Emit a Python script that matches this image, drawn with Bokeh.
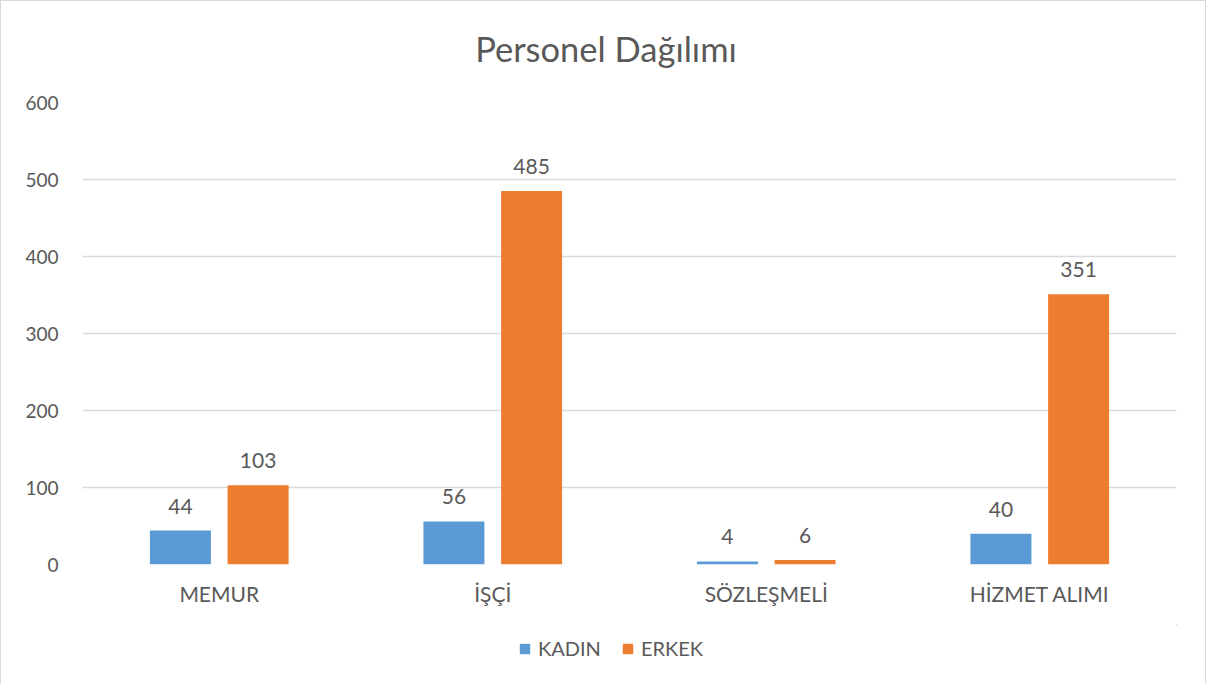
from bokeh.plotting import figure
from bokeh.models import ColumnDataSource, FactorRange, Range1d, Legend, LegendItem, SingleIntervalTicker, Label
from bokeh.layouts import column
from bokeh.core.properties import value
from bokeh.embed import file_html
from bokeh.resources import INLINE
from bokeh.transform import dodge

categories = ["MEMUR", "İŞÇİ", "SÖZLEŞMELİ", "HİZMET ALIMI"]
kadin = [44, 56, 4, 40]
erkek = [103, 485, 6, 351]
series_names = ["KADIN", "ERKEK"]
colors = ["#5B9BD5", "#ED7D31"]
title_text = "Personel Dağılımı"

FONT = "Lato"
TXT = "#595959"
BORDER = "1.5px solid #D9D9D9"
W = 1206
FL, FR = 83, 1176   # frame extents in page pixels (shared across the column)

# ---- title strip
pt = figure(width=W, height=80, x_range=Range1d(FL, FR), y_range=Range1d(0, 80),
            output_backend="svg", toolbar_location=None, x_axis_type=None, y_axis_type=None,
            min_border=0)
pt.outline_line_color = None
pt.styles = {"border-top": BORDER, "border-left": BORDER, "border-right": BORDER,
             "box-sizing": "border-box"}
pt.add_layout(Label(x=606, y=33, text=title_text, text_align="center", text_baseline="middle",
                    text_font=FONT, text_font_size="34.5px", text_color=TXT))

# ---- main chart
src = ColumnDataSource(dict(cat=categories, kadin=kadin, erkek=erkek,
                            kl=[str(v) for v in kadin], el=[str(v) for v in erkek]))

p = figure(width=W, height=544, x_range=FactorRange(*categories),
           y_range=Range1d(0, 600), output_backend="svg", toolbar_location=None,
           min_border_left=81, min_border_right=31, min_border_top=22, min_border_bottom=60)
p.outline_line_color = None
p.border_fill_color = "white"
p.background_fill_color = "white"
p.styles = {"border-left": BORDER, "border-right": BORDER, "box-sizing": "border-box"}

p.vbar(x=dodge("cat", -0.142, range=p.x_range), top="kadin", width=0.223, source=src,
       fill_color=colors[0], line_color=None)
p.vbar(x=dodge("cat", 0.142, range=p.x_range), top="erkek", width=0.223, source=src,
       fill_color=colors[1], line_color=None)

p.text(x=dodge("cat", -0.142, range=p.x_range), y="kadin", text="kl", source=src,
       text_align="center", text_baseline="bottom", y_offset=-17,
       text_font=value(FONT), text_font_size="21px", text_color=TXT)
p.text(x=dodge("cat", 0.142, range=p.x_range), y="erkek", text="el", source=src,
       text_align="center", text_baseline="bottom", y_offset=-17,
       text_font=value(FONT), text_font_size="21px", text_color=TXT)

p.yaxis.ticker = SingleIntervalTicker(interval=100)
p.yaxis.axis_line_color = None
p.yaxis.major_tick_line_color = None
p.yaxis.minor_tick_line_color = None
p.yaxis.major_label_text_font = FONT
p.yaxis.major_label_text_font_size = "19px"
p.yaxis.major_label_text_color = TXT
p.yaxis.major_label_standoff = 18

p.xaxis.axis_line_color = None
p.xaxis.major_tick_line_color = None
p.xaxis.minor_tick_line_color = None
p.xaxis.major_label_text_font = FONT
p.xaxis.major_label_text_font_size = "21px"
p.xaxis.major_label_text_color = TXT
p.xaxis.major_label_standoff = 10

p.xgrid.grid_line_color = None
p.ygrid.grid_line_color = "#D9D9D9"
p.ygrid.grid_line_width = 1.5

# ---- legend strip (swatch renderers have zero height, so they draw nothing)
pl = figure(width=W, height=60, x_range=Range1d(0, 1), y_range=Range1d(0, 1),
            output_backend="svg", toolbar_location=None, x_axis_type=None, y_axis_type=None,
            min_border=0)
pl.outline_line_color = None
pl.styles = {"border-left": BORDER, "border-right": BORDER, "box-sizing": "border-box"}
lr1 = pl.vbar(x=kadin, top=kadin, bottom=kadin, width=0.1, fill_color=colors[0], line_color=None)
lr2 = pl.vbar(x=erkek, top=erkek, bottom=erkek, width=0.1, fill_color=colors[1], line_color=None)
legend = Legend(items=[LegendItem(label=series_names[0], renderers=[lr1], index=0),
                       LegendItem(label=series_names[1], renderers=[lr2], index=0)],
                orientation="horizontal", location=(436, 24),
                label_text_font=FONT, label_text_font_size="20px", label_text_color=TXT,
                glyph_width=13, glyph_height=13, label_standoff=7, spacing=20,
                border_line_color=None, background_fill_alpha=0, padding=0, margin=0)
pl.add_layout(legend, "center")

layout = column(pt, p, pl, spacing=0)
open("out.html", "w").write(file_html(layout, INLINE))
